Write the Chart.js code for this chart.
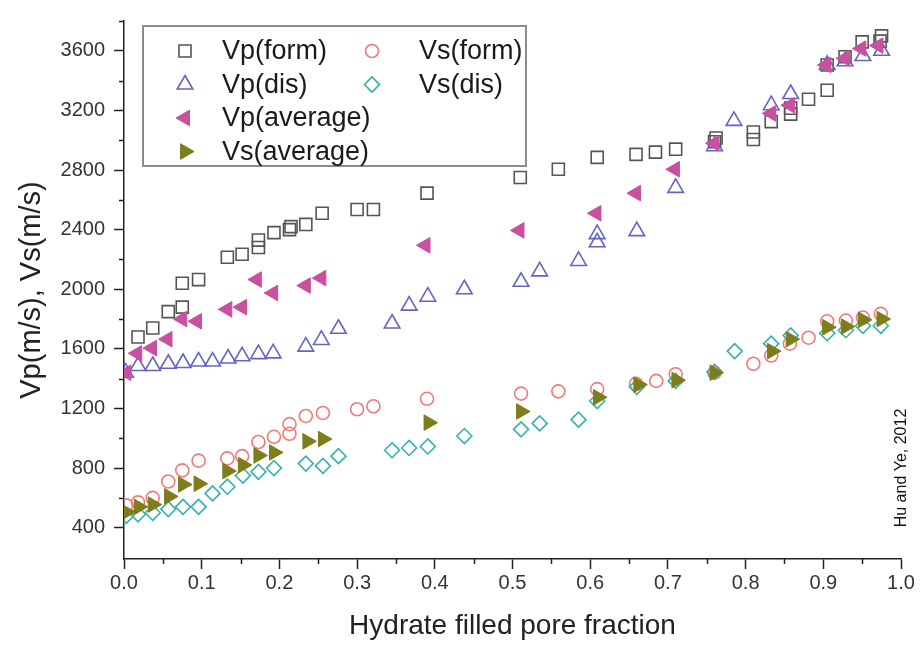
<!DOCTYPE html>
<html>
<head>
<meta charset="utf-8">
<script src="https://cdn.jsdelivr.net/npm/chart.js@4/dist/chart.umd.min.js"></script>
<style>
  html, body { margin: 0; padding: 0; background: #fff; }
  canvas { display: block; }
</style>
</head>
<body>
<canvas id="chart" width="924" height="646"></canvas>
<script>
// values (x = hydrate filled pore fraction, y = velocity in m/s)
const vpFormX = [0.018, 0.037, 0.057, 0.075, 0.075, 0.096, 0.133, 0.152, 0.173, 0.173, 0.193, 0.213, 0.215, 0.234, 0.255, 0.300, 0.321, 0.390, 0.510, 0.559, 0.609, 0.659, 0.684, 0.710, 0.760, 0.762, 0.810, 0.810, 0.833, 0.858, 0.858, 0.881, 0.905, 0.905, 0.928, 0.950, 0.973, 0.975];
const vpFormY = [1680, 1740, 1850, 1880, 2040, 2065, 2215, 2235, 2280, 2330, 2380, 2400, 2420, 2435, 2510, 2535, 2535, 2645, 2750, 2805, 2885, 2905, 2920, 2940, 2990, 3015, 3005, 3055, 3125, 3175, 3215, 3275, 3335, 3505, 3560, 3660, 3665, 3700];

const vpDisX = [0.002, 0.018, 0.037, 0.057, 0.076, 0.096, 0.114, 0.134, 0.152, 0.173, 0.192, 0.234, 0.254, 0.276, 0.345, 0.367, 0.391, 0.438, 0.511, 0.535, 0.585, 0.609, 0.609, 0.660, 0.710, 0.760, 0.785, 0.833, 0.858, 0.905, 0.928, 0.951, 0.975];
const vpDisY = [1440, 1485, 1485, 1500, 1505, 1515, 1515, 1535, 1550, 1565, 1570, 1615, 1660, 1735, 1770, 1890, 1950, 2000, 2050, 2120, 2190, 2315, 2370, 2390, 2680, 2960, 3130, 3235, 3310, 3505, 3530, 3565, 3600];

const vpAvgX = [0.003, 0.017, 0.036, 0.056, 0.075, 0.094, 0.133, 0.152, 0.171, 0.192, 0.234, 0.254, 0.388, 0.509, 0.608, 0.659, 0.709, 0.760, 0.833, 0.857, 0.904, 0.928, 0.949, 0.971];
const vpAvgY = [1440, 1570, 1605, 1665, 1800, 1785, 1865, 1880, 2065, 1975, 2025, 2075, 2295, 2395, 2510, 2645, 2805, 2980, 3180, 3235, 3505, 3550, 3615, 3635];

const vsFormX = [0.003, 0.018, 0.037, 0.057, 0.075, 0.096, 0.133, 0.152, 0.173, 0.193, 0.213, 0.213, 0.234, 0.256, 0.300, 0.321, 0.390, 0.511, 0.559, 0.609, 0.659, 0.685, 0.710, 0.760, 0.810, 0.833, 0.857, 0.881, 0.905, 0.929, 0.951, 0.974];
const vsFormY = [550, 570, 600, 710, 785, 850, 865, 880, 975, 1010, 1030, 1095, 1150, 1170, 1195, 1215, 1265, 1300, 1315, 1330, 1365, 1385, 1430, 1440, 1500, 1555, 1635, 1675, 1785, 1790, 1810, 1835];

const vsDisX = [0.003, 0.018, 0.037, 0.057, 0.076, 0.096, 0.114, 0.133, 0.153, 0.173, 0.193, 0.234, 0.256, 0.276, 0.345, 0.367, 0.391, 0.438, 0.511, 0.535, 0.585, 0.609, 0.660, 0.710, 0.760, 0.786, 0.833, 0.858, 0.905, 0.929, 0.951, 0.974];
const vsDisY = [480, 490, 500, 525, 540, 540, 630, 675, 750, 775, 800, 830, 815, 880, 920, 935, 945, 1015, 1060, 1100, 1125, 1250, 1345, 1385, 1445, 1585, 1635, 1690, 1705, 1725, 1755, 1755];

const vsAvgX = [0.003, 0.019, 0.037, 0.058, 0.076, 0.096, 0.133, 0.153, 0.173, 0.193, 0.236, 0.256, 0.392, 0.511, 0.610, 0.662, 0.711, 0.760, 0.834, 0.858, 0.905, 0.929, 0.951, 0.975];
const vsAvgY = [505, 540, 555, 610, 690, 695, 780, 820, 885, 905, 980, 995, 1105, 1180, 1275, 1360, 1390, 1440, 1585, 1665, 1745, 1750, 1795, 1800];

const yMajorTicks = [400, 800, 1200, 1600, 2000, 2400, 2800, 3200, 3600];
const xTickLabels = ['0.0', '0.1', '0.2', '0.3', '0.4', '0.5', '0.6', '0.7', '0.8', '0.9', '1.0'];

const FONT = '"Liberation Sans", Arial, sans-serif';

function pts(xs, ys) {
    return xs.map((x, i) => ({ x: x, y: ys[i] }));
}

function series(label, xs, ys, color, style, radius, rotation, filled) {
    return {
        label: label,
        data: pts(xs, ys),
        showLine: false,
        pointStyle: style,
        pointRadius: radius,
        pointRotation: rotation,
        pointBorderColor: color,
        pointBackgroundColor: filled ? color : 'rgba(0,0,0,0)',
        pointBorderWidth: filled ? 1 : 1.6,
        borderColor: color,
        backgroundColor: filled ? color : 'rgba(0,0,0,0)'
    };
}

// first dataset is drawn on top
const datasets = [
    series('Vs(average)', vsAvgX, vsAvgY, '#7d7d1c', 'triangle', 9, 90, true),
    series('Vp(average)', vpAvgX, vpAvgY, '#c8509e', 'triangle', 9, -90, true),
    series('Vs(dis)', vsDisX, vsDisY, '#36b0b0', 'rectRot', 7.5, 0, false),
    series('Vs(form)', vsFormX, vsFormY, '#f07a78', 'circle', 6.5, 0, false),
    series('Vp(dis)', vpDisX, vpDisY, '#6464c4', 'triangle', 9, 0, false),
    series('Vp(form)', vpFormX, vpFormY, '#555555', 'rect', 8.5, 0, false)
];

// legend layout: two columns, like the original box
const legendCol1 = ['Vp(form)', 'Vp(dis)', 'Vp(average)', 'Vs(average)'];
const legendCol2 = ['Vs(form)', 'Vs(dis)'];

const boxLegend = {
    id: 'boxLegend',
    afterDraw(chart) {
        const ctx = chart.ctx;
        const area = chart.chartArea;
        const left = area.left + 19, top = area.top + 5;
        ctx.save();
        ctx.fillStyle = '#fff';
        ctx.fillRect(left, top, 383, 140);
        ctx.strokeStyle = '#8c8c8c';
        ctx.lineWidth = 2;
        ctx.strokeRect(left, top, 383, 140);

        const drawEntry = (label, mx, tx, y) => {
            const ds = chart.data.datasets.find(d => d.label === label);
            ctx.fillStyle = ds.pointBackgroundColor;
            ctx.strokeStyle = ds.pointBorderColor;
            ctx.lineWidth = ds.pointBorderWidth;
            Chart.helpers.drawPoint(ctx, {
                pointStyle: ds.pointStyle,
                radius: ds.pointRadius,
                rotation: ds.pointRotation,
                borderWidth: ds.pointBorderWidth
            }, mx, y);
            ctx.fillStyle = '#1a1a1a';
            ctx.font = '27px ' + FONT;
            ctx.textAlign = 'left';
            ctx.textBaseline = 'middle';
            ctx.fillText(label, tx, y + 1);
        };
        legendCol1.forEach((l, i) => drawEntry(l, left + 42, left + 79, top + 25 + i * 33.5));
        legendCol2.forEach((l, i) => drawEntry(l, left + 229, left + 276, top + 25 + i * 33.5));
        ctx.restore();
    }
};

// short minor ticks between the labelled ones + the side note
const minorTicks = {
    id: 'minorTicks',
    afterDraw(chart) {
        const ctx = chart.ctx;
        const x = chart.scales.x, y = chart.scales.y;
        ctx.save();
        ctx.strokeStyle = '#222';
        ctx.lineWidth = 1.5;
        ctx.beginPath();
        for (let v = 600; v <= 3800; v += 400) {
            const py = Math.round(y.getPixelForValue(v)) + 0.5;
            ctx.moveTo(x.left - 5, py);
            ctx.lineTo(x.left, py);
        }
        for (let i = 0; i < 10; i++) {
            const px = Math.round(x.getPixelForValue(0.05 + i * 0.1)) + 0.5;
            ctx.moveTo(px, y.bottom);
            ctx.lineTo(px, y.bottom + 5);
        }
        ctx.stroke();

        ctx.translate(902, 468);
        ctx.rotate(-Math.PI / 2);
        ctx.fillStyle = '#111';
        ctx.font = '16px ' + FONT;
        ctx.textAlign = 'center';
        ctx.textBaseline = 'middle';
        ctx.fillText('Hu and Ye, 2012', 0, 0);
        ctx.restore();
    }
};

new Chart(document.getElementById('chart').getContext('2d'), {
    type: 'scatter',
    data: { datasets: datasets },
    options: {
        responsive: false,
        animation: false,
        layout: { padding: { top: 10, right: 23, left: 0, bottom: 0 } },
        plugins: {
            legend: { display: false },
            tooltip: { enabled: false }
        },
        scales: {
            x: {
                type: 'linear',
                min: 0,
                max: 1,
                afterFit: s => { s.height = 87; },
                ticks: {
                    stepSize: 0.1,
                    autoSkip: false,
                    maxRotation: 0,
                    padding: 2,
                    color: '#333',
                    font: { family: FONT, size: 20 },
                    callback: (v, i) => xTickLabels[i]
                },
                grid: { drawOnChartArea: false, tickLength: 10, tickColor: '#222', tickWidth: 1.5 },
                border: { color: '#222', width: 1.5 },
                title: {
                    display: true,
                    text: 'Hydrate filled pore fraction',
                    color: '#222',
                    font: { family: FONT, size: 28 },
                    padding: { top: 0, bottom: 3 }
                }
            },
            y: {
                min: 190,
                max: 3800,
                afterFit: s => { s.width = 124; },
                afterBuildTicks: s => { s.ticks = yMajorTicks.map(v => ({ value: v })); },
                ticks: {
                    padding: 9,
                    color: '#333',
                    font: { family: FONT, size: 20 },
                    callback: v => String(v)
                },
                grid: { drawOnChartArea: false, tickLength: 10, tickColor: '#222', tickWidth: 1.5 },
                border: { color: '#222', width: 1.5 },
                title: {
                    display: true,
                    text: 'Vp(m/s), Vs(m/s)',
                    color: '#222',
                    font: { family: FONT, size: 29 },
                    padding: { top: 15, bottom: 0 }
                }
            }
        }
    },
    plugins: [boxLegend, minorTicks]
});
</script>
</body>
</html>
